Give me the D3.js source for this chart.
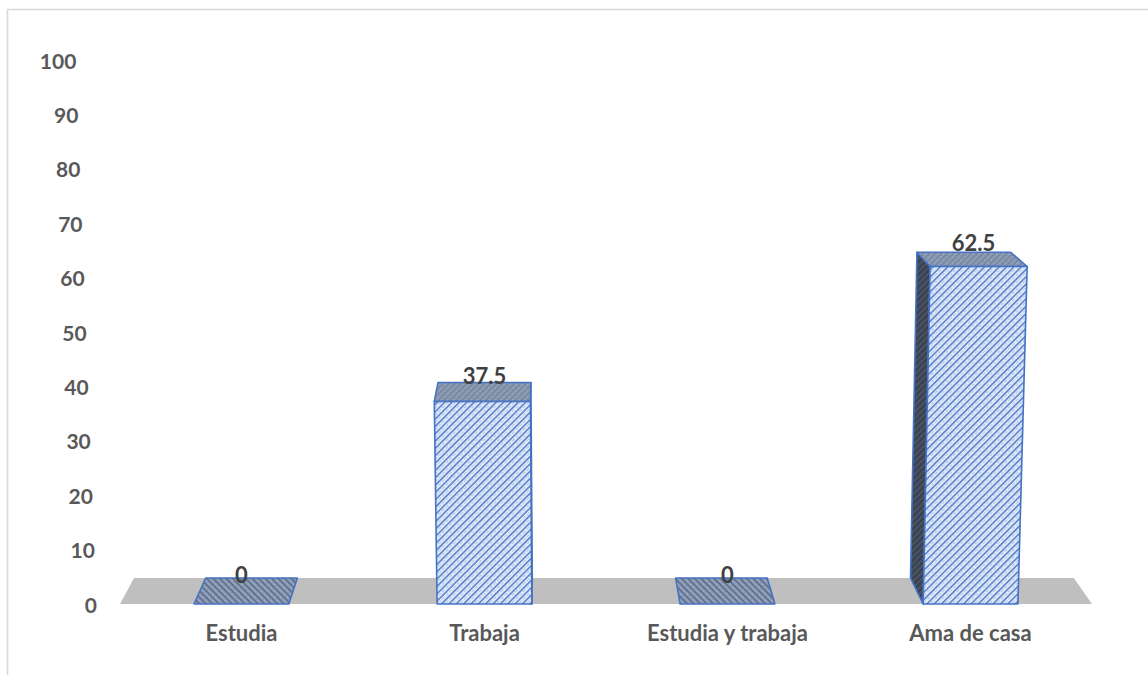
<!DOCTYPE html>
<html>
<head>
<meta charset="utf-8">
<script src="https://cdn.jsdelivr.net/npm/d3@7"></script>
<style>
  html, body { margin: 0; padding: 0; background: #ffffff; }
  svg { display: block; }
  text { font-family: Lato, "Open Sans", sans-serif; font-weight: 700; }
</style>
</head>
<body>
<svg id="chart" width="1148" height="675"></svg>
<script>
// Ocupación (%)
const categories = ["Estudia", "Trabaja", "Estudia y trabaja", "Ama de casa"];
const values = [0, 37.5, 0, 62.5];
const yTicks = [0, 10, 20, 30, 40, 50, 60, 70, 80, 90, 100];

const svg = d3.select("#chart");

// 3D view: depth recedes toward a point above the plot, verticals splay slightly.
const VX = 548, VY = -140, DEPTH = 0.965;
const KX = 632, KA = 7.1e-5, KBASE = 605;
function proj(x, y, z) {
  const s = 1 - z * (1 - DEPTH);
  let px = VX + (x - VX) * s;
  const py = VY + (y - VY) * s;
  px = KX + (px - KX) * (1 + KA * (KBASE - py));
  return [px, py];
}
const poly = pts => pts.map(p => proj(p[0], p[1], p[2]).join(",")).join(" ");

const x = d3.scaleBand().domain(categories).range([120, 1092])
  .paddingInner(0.61).paddingOuter(0.305);
const yBar = d3.scaleLinear().domain([0, 100]).range([604, 64]);
const yAxis = d3.scaleLinear().domain([0, 100]).range([605, 61]);

// Hatch fills
const defs = svg.append("defs");
function hatch(id, bg, fg, w, size, angle, dots) {
  const p = defs.append("pattern").attr("id", id)
    .attr("patternUnits", "userSpaceOnUse")
    .attr("width", size).attr("height", size)
    .attr("patternTransform", `rotate(${angle})`);
  p.append("rect").attr("width", size).attr("height", size).attr("fill", bg);
  p.append("rect").attr("x", 0).attr("y", 0).attr("width", size).attr("height", w).attr("fill", fg);
  if (dots) {
    p.append("line").attr("x1", 0).attr("x2", size)
      .attr("y1", size * 0.62).attr("y2", size * 0.62)
      .attr("stroke", dots).attr("stroke-width", 1)
      .attr("stroke-dasharray", "1.2,2.2");
  }
}
hatch("front", "#e3ebf8", "#6189d2", 1.7, 5.2, -45, "#8aa7de");
hatch("top", "#8797b0", "#7a89a2", 1.6, 4.2, -45, "#9eabbf");
hatch("flat", "#8a9ab3", "#56678a", 1.4, 4.6, 45, "#9fadc2");
hatch("side", "#3b4352", "#4c5669", 1.6, 4.4, -45, null);

// Chart frame
svg.append("rect").attr("x", 7.5).attr("y", 9.5).attr("width", 1200).attr("height", 700)
  .attr("fill", "none").attr("stroke", "#d9d9d9").attr("stroke-width", 1.6);

// Floor
const [r0, r1] = x.range();
const y0 = yBar(0);
svg.append("polygon")
  .attr("points", poly([[r0, y0, 0], [r1, y0, 0], [r1, y0, 1], [r0, y0, 1]]))
  .attr("fill", "#bfbfbf");

// Bars
const stroke = "#4472c4";
const bw = x.bandwidth();
const bars = svg.append("g");
categories.forEach((c, i) => {
  const v = values[i];
  const x0 = x(c), x1 = x0 + bw, yt = yBar(v), yb = yBar(0);
  const g = bars.append("g");
  const face = (pts, fill) => g.append("polygon").attr("points", poly(pts))
    .attr("fill", fill).attr("stroke", stroke).attr("stroke-width", 1.6)
    .attr("stroke-linejoin", "round");
  if (v > 0) {
    if (x0 > VX) face([[x0, yt, 0], [x0, yt, 1], [x0, yb, 1], [x0, yb, 0]], "url(#side)");
    if (x1 < VX) face([[x1, yt, 0], [x1, yt, 1], [x1, yb, 1], [x1, yb, 0]], "url(#side)");
    face([[x0, yt, 0], [x1, yt, 0], [x1, yt, 1], [x0, yt, 1]], "url(#top)");
    face([[x0, yt, 0], [x1, yt, 0], [x1, yb, 0], [x0, yb, 0]], "url(#front)");
  } else {
    face([[x0, yt, 0], [x1, yt, 0], [x1, yt, 1], [x0, yt, 1]], "url(#flat)");
  }
});

// Value labels
categories.forEach((c, i) => {
  const cx = x(c) + bw / 2 + (values[i] > 50 ? 3 : 0);
  const ly = proj(cx, yBar(values[i]), 0.5)[1] - 8;
  svg.append("text").attr("x", cx).attr("y", ly)
    .attr("text-anchor", "middle").attr("font-size", 22).attr("fill", "#404040")
    .text(d3.format("")(values[i]));
});

// Value axis labels
yTicks.forEach(t => {
  const [lx] = proj(97, yAxis(t), 0);
  svg.append("text").attr("x", lx).attr("y", yAxis(t) + 7.5)
    .attr("text-anchor", "end").attr("font-size", 21).attr("fill", "#595959")
    .text(t);
});

// Category labels
svg.append("g").selectAll("text").data(categories).join("text")
  .attr("x", d => x(d) + bw / 2).attr("y", 641)
  .attr("text-anchor", "middle").attr("font-size", 22).attr("fill", "#595959")
  .text(d => d);
</script>
</body>
</html>
